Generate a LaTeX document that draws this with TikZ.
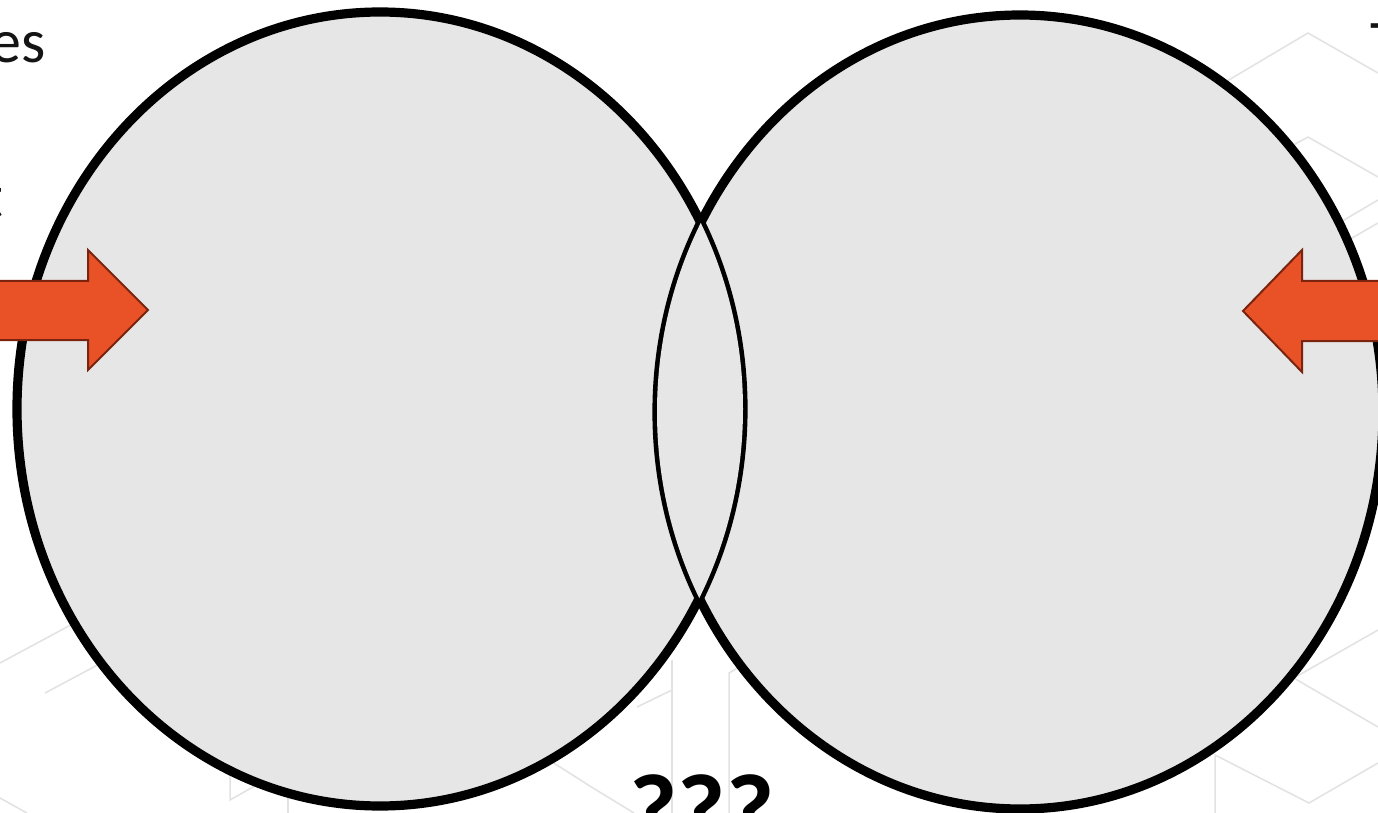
\documentclass[tikz,border=0pt]{standalone}
\usepackage{fontspec}
\setmainfont{Carlito}
\usetikzlibrary{positioning}
\definecolor{bubblegray}{HTML}{E6E6E6}
\definecolor{arroworange}{HTML}{E85226}
\definecolor{arrowedge}{HTML}{7A2410}
\definecolor{hexline}{HTML}{E2E2E2}
\definecolor{titletext}{HTML}{141414}
\tikzset{
	bubble/.style={
			fill=bubblegray
		},
	bubbleedge/.style={
			draw=black,
			line width=4.6pt
		},
	pusharrow/.style={
			fill=arroworange,
			draw=arrowedge,
			line width=1pt,
			line join=miter
		},
	hexedge/.style={
			draw=hexline,
			line width=0.75pt
		}
}
\tikzset{
	cuttext/.style={font=\fontsize{31}{37}\selectfont\color{titletext}, inner sep=0pt}
}
\tikzset{
	bigmark/.style={font=\fontsize{52}{62}\selectfont\bfseries, inner sep=0pt}
}

\begin{document}
\begin{tikzpicture}[x=0.5pt, y=-0.5pt]
        \useasboundingbox (0,0) rectangle (1378,813);
        \fill[white] (0,0) rectangle (1378,813);

        % faint background pattern
        \draw[hexedge] (1200,97) -- (1308,33) -- (1378,73);
        \draw[hexedge] (1220,185) -- (1308,137) -- (1378,177);
        \draw[hexedge] (1300,246) -- (1378,200);
        \draw[hexedge] (1300,268) -- (1378,223);
        \draw[hexedge] (1250,703) -- (1378,630);
        \draw[hexedge] (1280,670) -- (1378,727);
        \draw[hexedge] (1215,813) -- (1215,755) -- (1309,803) -- (1378,763);
        \draw[hexedge] (672,813) -- (672,660);
        \draw[hexedge] (729,813) -- (729,673) -- (760,655);
        \draw[hexedge] (549,760) -- (593,788) -- (634,813);
        \draw[hexedge] (637,707) -- (672,690);
        \draw[hexedge] (0,663) -- (80,620);
        \draw[hexedge] (45,693) -- (105,661);
        \draw[hexedge] (230,765) -- (230,800) -- (260,783);
        \draw[hexedge] (288,813) -- (288,796);
        \draw[hexedge] (0,798) -- (27,813);

        % the two bubbles
        \fill[bubble] (380,409) ellipse [x radius=363, y radius=397];
        \fill[bubble] (1020,412) ellipse [x radius=363, y radius=397];
        \draw[bubbleedge] (380,409) ellipse [x radius=363, y radius=397];
        \draw[bubbleedge] (1020,412) ellipse [x radius=363, y radius=397];
        \begin{scope}
          \clip (380,409) ellipse [x radius=363, y radius=397];
          \fill[bubble] (1020,412) ellipse [x radius=363, y radius=397];
        \end{scope}

        % arrows pushing inwards
        \draw[pusharrow] (-10,281) -- (88,281) -- (88,250) -- (148,310)
          -- (88,370) -- (88,340) -- (-10,340) -- cycle;
        \draw[pusharrow] (1390,281) -- (1302,281) -- (1302,250) -- (1243,311)
          -- (1302,372) -- (1302,341) -- (1390,341) -- cycle;

        \node[cuttext, anchor=base east] (wordend) at (46,63) {es};
        \node[cuttext, anchor=base east] (lineend) at (4,218) {t};
        \node[cuttext, anchor=base west] (nextword) at (1370,64) {T};
        \node[bigmark, anchor=base] (query) at (702,846) {???};
      \end{tikzpicture}
\end{document}
